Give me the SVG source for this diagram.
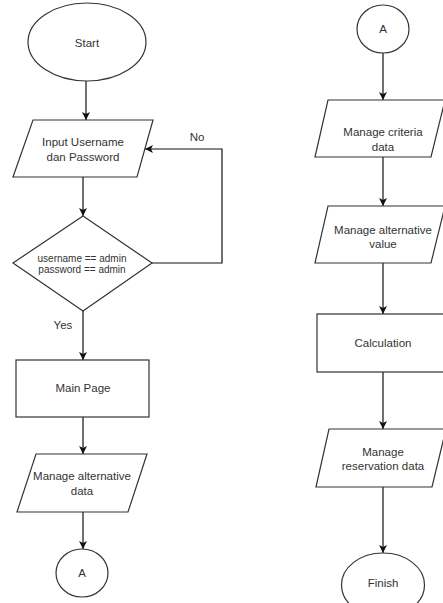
<svg xmlns="http://www.w3.org/2000/svg" width="443" height="603" viewBox="0 0 443 603">
<defs>
<style>
.s{fill:#fff;stroke:#333;stroke-width:1.2}
.t{font-family:"Liberation Sans",Arial,sans-serif;font-size:11.5px;fill:#333;text-anchor:middle}
.d{font-size:10px}
.c{fill:none;stroke:#111;stroke-width:1.2}
</style>
<marker id="ah" viewBox="0 0 10 10" refX="10" refY="5" markerWidth="8" markerHeight="8" markerUnits="userSpaceOnUse" orient="auto">
<path d="M0,0 L10,5 L0,10 L2.5,5 Z" fill="#111"/>
</marker>
</defs>
<rect width="443" height="603" fill="#fff"/>
<g id="connectors">
<path class="c" d="M86,81 V120" marker-end="url(#ah)"/>
<path class="c" d="M83,177 V216" marker-end="url(#ah)"/>
<path class="c" d="M152,263 H222 V149 H145" marker-end="url(#ah)"/>
<path class="c" d="M83,311 V360" marker-end="url(#ah)"/>
<path class="c" d="M83,417 V454" marker-end="url(#ah)"/>
<path class="c" d="M83,512 V549" marker-end="url(#ah)"/>
<path class="c" d="M383,53 V100" marker-end="url(#ah)"/>
<path class="c" d="M383,157 V206" marker-end="url(#ah)"/>
<path class="c" d="M383,263 V314" marker-end="url(#ah)"/>
<path class="c" d="M383,372 V429" marker-end="url(#ah)"/>
<path class="c" d="M383,487 V553" marker-end="url(#ah)"/>
<text class="t" x="197" y="141">No</text>
<text class="t" x="63" y="329">Yes</text>
</g>
<g id="start">
<ellipse class="s" cx="87" cy="42" rx="59" ry="39"/>
<text class="t" x="87" y="47">Start</text>
</g>
<g id="input">
<polygon class="s" points="33,120 153,120 137,177 13,177"/>
<text class="t" x="83" y="146">Input Username</text>
<text class="t" x="83" y="161">dan Password</text>
</g>
<g id="decision">
<polygon class="s" points="83,216 152,263 83,311 13,263"/>
<text class="t d" x="82" y="261.5">username == admin</text>
<text class="t d" x="82" y="272.5">password == admin</text>
</g>
<g id="mainpage">
<rect class="s" x="16" y="360" width="133" height="57"/>
<text class="t" x="83" y="392">Main Page</text>
</g>
<g id="managealt">
<polygon class="s" points="36,454 147,454 128,512 17,512"/>
<text class="t" x="82" y="480">Manage alternative</text>
<text class="t" x="82" y="495">data</text>
</g>
<g id="connA1">
<ellipse class="s" cx="82" cy="573" rx="26" ry="24"/>
<text class="t" x="82" y="577">A</text>
</g>
<g id="connA2">
<ellipse class="s" cx="383" cy="29" rx="26" ry="24"/>
<text class="t" x="383" y="33">A</text>
</g>
<g id="criteria">
<polygon class="s" points="328,100 445,100 431,157 315,157"/>
<text class="t" x="383" y="136">Manage criteria</text>
<text class="t" x="383" y="151">data</text>
</g>
<g id="altvalue">
<polygon class="s" points="328,206 445,206 431,263 315,263"/>
<text class="t" x="383" y="234">Manage alternative</text>
<text class="t" x="383" y="248">value</text>
</g>
<g id="calculation">
<rect class="s" x="317" y="314" width="132" height="58"/>
<text class="t" x="383" y="347">Calculation</text>
</g>
<g id="reservation">
<polygon class="s" points="329,429 446,429 432,487 316,487"/>
<text class="t" x="383" y="456">Manage</text>
<text class="t" x="383" y="470">reservation data</text>
</g>
<g id="finish">
<ellipse class="s" cx="383" cy="585" rx="41.5" ry="32"/>
<text class="t" x="383" y="587">Finish</text>
</g>
</svg>
